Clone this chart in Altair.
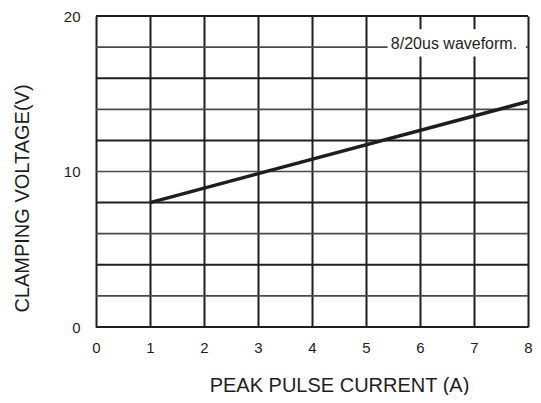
import altair as alt
import pandas as pd

# data
current = [1, 8]
voltage = [8.0, 14.5]
x_ticks = [0, 1, 2, 3, 4, 5, 6, 7, 8]
y_ticks = [0, 2, 4, 6, 8, 10, 12, 14, 16, 18, 20]
note = ["8/20us waveform."]

FONT = "Liberation Sans"
INK = "#1e1e1e"

line_df = pd.DataFrame({"current": current, "voltage": voltage})
grid_df = pd.DataFrame({"v": y_ticks})

x_scale = alt.Scale(domain=[0, 8], nice=False, zero=False)
y_scale = alt.Scale(domain=[0, 20], nice=False, zero=False)

x_axis = alt.Axis(
    values=x_ticks, title="PEAK PULSE CURRENT (A)", grid=True, ticks=False,
    domain=False, labelFontSize=15, labelPadding=13, labelColor=INK,
    labelFont=FONT, titleFont=FONT, titleFontSize=20, titleFontWeight="normal",
    titleColor=INK, titleX=243, titleY=64, titleBaseline="alphabetic",
    gridColor=INK, gridWidth=2, labelFlush=False,
)
y_axis = alt.Axis(
    values=[0, 10, 20], title="CLAMPING VOLTAGE(V)", grid=False, ticks=False,
    domain=False, labelFontSize=15, labelPadding=16, labelColor=INK,
    labelFont=FONT, titleFont=FONT, titleFontSize=20, titleFontWeight="normal",
    titleColor=INK, titleX=-64, titleY=182, labelFlush=False,
)

hgrid = alt.Chart(grid_df).mark_rule().encode(
    y=alt.Y("v:Q", scale=y_scale, axis=y_axis),
    color=alt.condition("datum.v % 4 == 0", alt.value(INK), alt.value("#4a4a4a")),
    strokeWidth=alt.condition("datum.v % 4 == 0", alt.value(2), alt.value(1.7)),
)

line = alt.Chart(line_df).mark_line(color=INK, strokeWidth=3.5).encode(
    x=alt.X("current:Q", scale=x_scale, axis=x_axis),
    y=alt.Y("voltage:Q", scale=y_scale),
)

note_df = pd.DataFrame({"note": note})
box = alt.Chart(note_df).mark_rect(color="white").encode(
    x=alt.datum(5.4), x2=alt.datum(7.96), y=alt.datum(17.4), y2=alt.datum(19.15),
)
label = alt.Chart(note_df).mark_text(
    align="left", baseline="alphabetic", font=FONT, fontSize=16, color=INK
).encode(x=alt.datum(5.46), y=alt.datum(17.9), text="note:N")

chart = alt.layer(hgrid, line, box, label).properties(
    width=432, height=311,
    autosize=alt.AutoSizeParams(type="none"),
    padding={"left": 88, "top": 8, "right": 5, "bottom": 68},
).configure_view(stroke=INK, strokeWidth=3).configure(background="white")

chart.save("out.html", embed_options={"renderer": "svg", "actions": False})
